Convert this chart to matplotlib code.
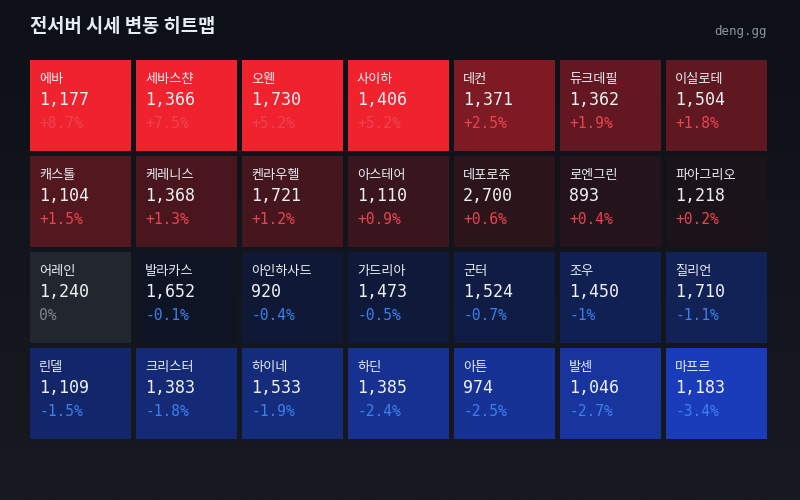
import numpy as np
import matplotlib

matplotlib.use("Agg")
import matplotlib.pyplot as plt
from matplotlib.patches import Rectangle
from matplotlib.colors import to_rgb

plt.rcParams["font.family"] = ["Noto Sans CJK KR", "DejaVu Sans"]

# 서버별 시세 데이터 (행 우선, 7열)
names = [
    "에바", "세바스챤", "오웬", "사이하", "데컨", "듀크데필", "이실로테",
    "캐스톨", "케레니스", "켄라우헬", "아스테어", "데포로쥬", "로엔그린", "파아그리오",
    "어레인", "발라카스", "아인하사드", "가드리아", "군터", "조우", "질리언",
    "린델", "크리스터", "하이네", "하딘", "아튼", "발센", "마프르",
]
prices = [
    1177, 1366, 1730, 1406, 1371, 1362, 1504,
    1104, 1368, 1721, 1110, 2700, 893, 1218,
    1240, 1652, 920, 1473, 1524, 1450, 1710,
    1109, 1383, 1533, 1385, 974, 1046, 1183,
]
changes = [
    8.7, 7.5, 5.2, 5.2, 2.5, 1.9, 1.8,
    1.5, 1.3, 1.2, 0.9, 0.6, 0.4, 0.2,
    0.0, -0.1, -0.4, -0.5, -0.7, -1.0, -1.1,
    -1.5, -1.8, -1.9, -2.4, -2.5, -2.7, -3.4,
]
n_cols = 7

red_base = np.array(to_rgb("#131219"))
red_full = np.array(to_rgb("#ef222e"))
blue_base = np.array(to_rgb("#0d121d"))
blue_full = np.array(to_rgb("#1a3cbb"))


def cell_color(p):
    if p > 0:
        t = min(p / 5.2, 1.0)
        return red_base * (1 - t) + red_full * t
    if p < 0:
        t = min(-p / 3.4, 1.0) ** 0.9
        return blue_base * (1 - t) + blue_full * t
    return to_rgb("#22272e")


def fmt_change(p):
    if p == 0:
        return "0%"
    s = f"{p:+.1f}".rstrip("0").rstrip(".")
    return s + "%"


fig = plt.figure(figsize=(8, 5), dpi=100)

# 배경 그라데이션
bg_ax = fig.add_axes([0, 0, 1, 1])
grad = np.linspace(0, 1, 256).reshape(-1, 1)
top_c = np.array(to_rgb("#0d1117"))
bot_c = np.array(to_rgb("#171a21"))
img = top_c * (1 - grad[..., None]) + bot_c * grad[..., None]
bg_ax.imshow(img, aspect="auto", extent=[0, 1, 0, 1])
bg_ax.axis("off")

fig.text(30 / 800, 1 - 27 / 500, "전서버 시세 변동 히트맵", fontsize=13.5, fontweight="bold",
         color="#e6edf3", va="center", ha="left")
fig.text(767 / 800, 1 - 31 / 500, "deng.gg", fontsize=9, color="#8b949e",
         family="DejaVu Sans Mono", va="center", ha="right")

n_rows = int(np.ceil(len(names) / n_cols))
col_step, row_step = 106, 96
left, top = 30, 60
ax = fig.add_axes([left / 800, 1 - (top + n_rows * row_step) / 500,
                   n_cols * col_step / 800, n_rows * row_step / 500])
ax.set_xlim(0, n_cols)
ax.set_ylim(n_rows, 0)
ax.axis("off")

w = 101 / col_step
h = 91 / row_step
pt = 72 / 100  # px -> pt

for i, (name, price, ch) in enumerate(zip(names, prices, changes)):
    r, c = divmod(i, n_cols)
    ax.add_patch(Rectangle((c, r), w, h, facecolor=cell_color(ch), edgecolor="none"))
    if ch > 0:
        ch_color = "#ec4350"
    elif ch < 0:
        ch_color = "#3b80ee"
    else:
        ch_color = "#7d8590"
    ax.annotate(name, (c, r), xytext=(9 * pt, -23 * pt), textcoords="offset points",
                fontsize=9.5, color="#e6edf3", va="baseline", ha="left")
    ax.annotate(f"{price:,}", (c, r), xytext=(9 * pt, -45 * pt), textcoords="offset points",
                fontsize=12, color="#eef1f4", va="baseline", ha="left",
                family="DejaVu Sans Mono")
    ax.annotate(fmt_change(ch), (c, r), xytext=(9 * pt, -68 * pt), textcoords="offset points",
                fontsize=10.5, color=ch_color, va="baseline", ha="left",
                family="DejaVu Sans Mono", fontweight="medium")

fig.savefig("out.png", dpi=100)
